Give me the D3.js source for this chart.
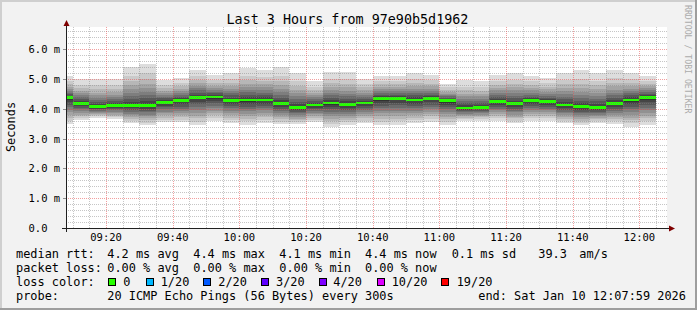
<!DOCTYPE html>
<html><head><meta charset="utf-8">
<script src="https://cdn.jsdelivr.net/npm/d3@7"></script>
<style>html,body{margin:0;padding:0;background:#f2f2f2;} svg{display:block;}</style>
</head><body><svg id="c" width="697" height="310"></svg>
<script>
// ---------------- data ----------------
const titleText = "Last 3 Hours from 97e90b5d1962";
const yAxisTitle = "Seconds";
const watermark = "RRDTOOL / TOBI OETIKER";
const startTime = "09:07:59";
const endTime = "12:07:59";
const stepSeconds = 300;
// end time of each 300 s sample
const sampleTimes = ["09:10","09:15","09:20","09:25","09:30","09:35","09:40","09:45","09:50","09:55",
  "10:00","10:05","10:10","10:15","10:20","10:25","10:30","10:35","10:40","10:45","10:50","10:55",
  "11:00","11:05","11:10","11:15","11:20","11:25","11:30","11:35","11:40","11:45","11:50","11:55",
  "12:00","12:05"];
// median RTT (ms)
const medianRtt = [4.37,4.19,4.07,4.11,4.11,4.11,4.22,4.27,4.39,4.40,4.29,4.30,4.30,4.17,4.05,4.13,4.20,4.15,
  4.20,4.34,4.35,4.30,4.34,4.27,4.03,4.05,4.24,4.18,4.27,4.24,4.13,4.07,4.05,4.18,4.30,4.37];
// 20 sorted ping RTTs (ms) per sample
const pings = [
 [3.50,3.61,3.71,3.80,3.88,3.97,4.06,4.14,4.23,4.31,4.40,4.44,4.49,4.55,4.61,4.67,4.74,4.82,4.92,5.09],
 [3.62,3.69,3.76,3.81,3.87,3.93,3.99,4.04,4.10,4.15,4.22,4.27,4.33,4.39,4.46,4.53,4.61,4.70,4.81,5.00],
 [3.71,3.76,3.80,3.83,3.87,3.90,3.94,3.98,4.01,4.05,4.11,4.16,4.23,4.30,4.38,4.46,4.55,4.66,4.79,5.00],
 [3.66,3.72,3.77,3.81,3.86,3.90,3.95,3.99,4.04,4.08,4.15,4.20,4.26,4.33,4.40,4.48,4.57,4.67,4.80,5.00],
 [3.53,3.61,3.67,3.73,3.79,3.84,3.90,3.96,4.02,4.07,4.16,4.24,4.33,4.44,4.54,4.66,4.79,4.94,5.12,5.42],
 [3.46,3.54,3.62,3.68,3.75,3.81,3.88,3.94,4.01,4.06,4.17,4.25,4.35,4.46,4.58,4.70,4.84,5.00,5.20,5.52],
 [3.55,3.64,3.71,3.78,3.85,3.91,3.98,4.05,4.11,4.17,4.25,4.29,4.35,4.41,4.46,4.53,4.61,4.69,4.79,4.96],
 [3.55,3.64,3.72,3.80,3.87,3.94,4.01,4.08,4.16,4.22,4.30,4.35,4.40,4.46,4.52,4.59,4.67,4.76,4.86,5.04],
 [3.45,3.57,3.68,3.77,3.86,3.96,4.05,4.15,4.24,4.32,4.43,4.48,4.55,4.62,4.70,4.78,4.87,4.98,5.11,5.32],
 [3.58,3.69,3.78,3.86,3.94,4.02,4.11,4.19,4.27,4.34,4.43,4.47,4.52,4.58,4.64,4.71,4.78,4.86,4.96,5.13],
 [3.53,3.63,3.71,3.79,3.86,3.94,4.02,4.09,4.17,4.24,4.33,4.38,4.45,4.52,4.59,4.68,4.77,4.87,5.00,5.21],
 [3.47,3.58,3.67,3.75,3.84,3.92,4.00,4.08,4.17,4.24,4.34,4.41,4.48,4.57,4.65,4.75,4.85,4.97,5.12,5.36],
 [3.54,3.64,3.72,3.80,3.87,3.95,4.03,4.10,4.18,4.25,4.34,4.40,4.47,4.55,4.63,4.72,4.82,4.92,5.06,5.29],
 [3.48,3.57,3.65,3.72,3.78,3.85,3.92,3.99,4.06,4.12,4.22,4.29,4.38,4.48,4.57,4.68,4.80,4.94,5.11,5.39],
 [3.48,3.55,3.62,3.67,3.73,3.79,3.85,3.90,3.96,4.01,4.10,4.16,4.24,4.34,4.43,4.53,4.64,4.77,4.93,5.19],
 [3.57,3.64,3.70,3.76,3.82,3.87,3.93,3.98,4.04,4.09,4.16,4.21,4.27,4.33,4.40,4.47,4.55,4.64,4.75,4.94],
 [3.40,3.50,3.59,3.67,3.75,3.83,3.91,3.99,4.07,4.14,4.24,4.31,4.38,4.46,4.55,4.64,4.75,4.86,5.01,5.25],
 [3.46,3.55,3.63,3.70,3.76,3.83,3.90,3.97,4.04,4.10,4.19,4.26,4.34,4.43,4.51,4.61,4.72,4.84,5.00,5.25],
 [3.52,3.61,3.68,3.75,3.82,3.89,3.96,4.02,4.09,4.15,4.23,4.28,4.34,4.41,4.47,4.54,4.63,4.72,4.83,5.02],
 [3.46,3.57,3.67,3.76,3.85,3.94,4.02,4.11,4.20,4.28,4.37,4.42,4.47,4.54,4.60,4.67,4.75,4.83,4.94,5.12],
 [3.46,3.58,3.67,3.76,3.85,3.94,4.03,4.12,4.21,4.29,4.38,4.43,4.48,4.54,4.60,4.67,4.75,4.84,4.94,5.12],
 [3.52,3.62,3.71,3.79,3.86,3.94,4.02,4.10,4.18,4.25,4.34,4.39,4.45,4.52,4.59,4.67,4.76,4.86,4.99,5.19],
 [3.57,3.67,3.76,3.83,3.91,3.99,4.06,4.14,4.22,4.29,4.37,4.42,4.48,4.54,4.61,4.68,4.76,4.85,4.96,5.15],
 [3.46,3.57,3.65,3.74,3.82,3.90,3.98,4.06,4.14,4.21,4.29,4.33,4.37,4.42,4.46,4.51,4.57,4.64,4.72,4.85],
 [3.61,3.67,3.71,3.75,3.80,3.84,3.88,3.92,3.96,4.00,4.07,4.12,4.19,4.26,4.34,4.42,4.51,4.62,4.75,4.96],
 [3.61,3.67,3.72,3.76,3.80,3.85,3.89,3.94,3.98,4.02,4.09,4.14,4.20,4.27,4.34,4.42,4.51,4.60,4.73,4.93],
 [3.60,3.68,3.75,3.82,3.88,3.95,4.01,4.07,4.14,4.20,4.28,4.33,4.40,4.47,4.54,4.62,4.71,4.81,4.94,5.15],
 [3.52,3.61,3.68,3.74,3.81,3.88,3.94,4.01,4.07,4.13,4.22,4.28,4.36,4.44,4.52,4.62,4.72,4.84,4.98,5.22],
 [3.61,3.70,3.77,3.83,3.90,3.97,4.03,4.10,4.16,4.22,4.30,4.36,4.41,4.48,4.55,4.63,4.71,4.81,4.93,5.12],
 [3.61,3.69,3.76,3.82,3.89,3.95,4.01,4.08,4.14,4.20,4.27,4.32,4.38,4.44,4.51,4.58,4.66,4.75,4.86,5.05],
 [3.52,3.60,3.67,3.73,3.79,3.85,3.91,3.97,4.03,4.09,4.17,4.24,4.32,4.40,4.49,4.59,4.70,4.82,4.97,5.22],
 [3.46,3.54,3.61,3.67,3.73,3.79,3.85,3.91,3.97,4.03,4.12,4.19,4.28,4.38,4.47,4.58,4.70,4.84,5.01,5.29],
 [3.52,3.59,3.65,3.70,3.75,3.81,3.86,3.91,3.97,4.01,4.10,4.17,4.25,4.34,4.44,4.54,4.66,4.79,4.95,5.22],
 [3.50,3.59,3.66,3.73,3.80,3.87,3.94,4.00,4.07,4.13,4.22,4.29,4.37,4.46,4.55,4.65,4.76,4.88,5.04,5.29],
 [3.40,3.52,3.62,3.71,3.80,3.89,3.98,4.07,4.16,4.24,4.34,4.39,4.45,4.52,4.59,4.67,4.76,4.86,4.99,5.19],
 [3.46,3.58,3.68,3.77,3.86,3.95,4.04,4.13,4.22,4.31,4.40,4.45,4.50,4.56,4.62,4.69,4.76,4.84,4.95,5.12]
];
// packet loss per sample (pings lost of 20)
const lossCount = new Array(36).fill(0);
const yMax = 6.75;
const yTickValues = [0,1,2,3,4,5,6];
const yTickLabels = ["0.0","1.0 m","2.0 m","3.0 m","4.0 m","5.0 m","6.0 m"];
const xTickLabels = ["09:20","09:40","10:00","10:20","10:40","11:00","11:20","11:40","12:00"];
const lossKeys = [0,1,2,3,4,10,19];
const lossLabels = ["0","1/20","2/20","3/20","4/20","10/20","19/20"];
const lossColors = ["#26ff00","#00b8ff","#0059ff","#5e00ff","#7e00ff","#dd00ff","#ff0000"];
const legendRtt = ["median rtt:","4.2 ms avg","4.4 ms max","4.1 ms min","4.4 ms now","0.1 ms sd","39.3","am/s"];
const legendLoss = ["packet loss:","0.00 % avg","0.00 % max","0.00 % min","0.00 % now"];
const legendLossColorTitle = "loss color:";
const legendProbe = ["probe:","20 ICMP Echo Pings (56 Bytes) every 300s","end: Sat Jan 10 12:07:59 2026"];

// ---------------- drawing ----------------
const W = 697, H = 310;
const X0 = 66, X1 = 666, Y0 = 228, Y1 = 27;
const parseT = s => new Date(`2026-01-10T${s.length===5? s+":00" : s}Z`);
const FONT = "'DejaVu Sans Mono', monospace";

const svg = d3.select("#c");
const x = d3.scaleUtc().domain([parseT(startTime), parseT(endTime)]).range([X0, X1]);
const y = d3.scaleLinear().domain([0, yMax]).range([Y0, Y1]);

svg.append("rect").attr("width", W).attr("height", H).attr("fill", "#f2f2f2");
svg.append("path").attr("d", `M0,0H${W}V2H2V${H}H0Z`).attr("fill", "#cfcfcf");
svg.append("path").attr("d", `M${W},${H}H0V${H-2}H${W-2}V0H${W}Z`).attr("fill", "#9e9e9e");

// canvas
svg.append("rect").attr("x", X0).attr("y", Y1).attr("width", X1 - X0 + 1).attr("height", Y0 - Y1).attr("fill", "#ffffff");

// smoke
const gSmoke = svg.append("g");
sampleTimes.forEach((s, k) => {
  const tEnd = parseT(s), tStart = new Date(+tEnd - stepSeconds * 1000);
  const xa = Math.round(Math.max(X0, x(tStart))), xb = Math.round(x(tEnd));
  const p = pings[k];
  for (let i = 1; i <= 10; i++) {
    const g = Math.floor(190 / 10 * (10 - i)) + 50;
    const yt = Math.round(y(p[20 - i])), yb = Math.round(y(p[i - 1]));
    gSmoke.append("rect").attr("x", xa).attr("width", xb - xa)
      .attr("y", yt).attr("height", Math.max(0, yb - yt)).attr("fill", d3.rgb(g, g, g));
  }
  const yc = y(medianRtt[k]);
  const mt = Math.round(yc - 1.4), mb = Math.round(yc + 1.4);
  const ci = lossKeys.reduce((a, key, j) => lossCount[k] >= key ? j : a, 0);
  gSmoke.append("rect").attr("x", xa).attr("width", xb - xa).attr("y", mt).attr("height", mb - mt)
    .attr("fill", lossColors[ci]);
});

// grid
const gGrid = svg.append("g").attr("shape-rendering", "crispEdges");
const majorTimes = xTickLabels.map(parseT);
const minorTimes = x.ticks(d3.utcMinute.every(5)).filter(t => t.getUTCMinutes() % 20 !== 0);
minorTimes.forEach(t => {
  const xx = Math.round(x(t)) + 0.5;
  gGrid.append("line").attr("x1", xx).attr("x2", xx).attr("y1", Y1).attr("y2", Y0)
    .attr("stroke", "rgba(128,128,128,0.45)").attr("stroke-dasharray", "1,1");
});
const minorY = d3.range(1, Math.floor(yMax / 0.2) + 1).map(i => i * 0.2).filter(v => Math.abs(v - Math.round(v)) > 0.01);
minorY.forEach(v => {
  const yy = Math.round(y(v)) + 0.5;
  gGrid.append("line").attr("x1", X0).attr("x2", X1 + 2).attr("y1", yy).attr("y2", yy)
    .attr("stroke", "rgba(128,128,128,0.45)").attr("stroke-dasharray", "1,1");
});
majorTimes.forEach(t => {
  const xx = Math.round(x(t)) + 0.5;
  gGrid.append("line").attr("x1", xx).attr("x2", xx).attr("y1", Y1).attr("y2", Y0)
    .attr("stroke", "rgba(232,80,80,0.55)").attr("stroke-dasharray", "1,1");
});
yTickValues.slice(1).forEach(v => {
  const yy = Math.round(y(v)) + 0.5;
  gGrid.append("line").attr("x1", X0).attr("x2", X1 + 2).attr("y1", yy).attr("y2", yy)
    .attr("stroke", "rgba(232,80,80,0.55)").attr("stroke-dasharray", "1,1");
});

// axes
const axisCol = "#202020";
const gAx = svg.append("g").attr("shape-rendering", "crispEdges");
gAx.append("line").attr("x1", X0 - 4).attr("x2", X1 + 3).attr("y1", Y0 + 0.5).attr("y2", Y0 + 0.5).attr("stroke", axisCol);
gAx.append("line").attr("x1", X0 + 0.5).attr("x2", X0 + 0.5).attr("y1", Y0 + 4).attr("y2", Y1 - 2).attr("stroke", axisCol);
yTickValues.slice(1).forEach(v => {
  const yy = Math.round(y(v)) + 0.5;
  gAx.append("line").attr("x1", X0 - 3).attr("x2", X0).attr("y1", yy).attr("y2", yy).attr("stroke", "#909090");
});
// arrows
svg.append("path").attr("d", `M${X0+0.5},${Y1-7} L${X0-2.5},${Y1-1} L${X0+3.5},${Y1-1} Z`).attr("fill", "#7f0000");
svg.append("path").attr("d", `M${X1+9},${Y0+0.5} L${X1+3},${Y0-2.5} L${X1+3},${Y0+3.5} Z`).attr("fill", "#7f0000");

// axis labels
const gTxt = svg.append("g").attr("font-family", FONT).attr("fill", "#000");
yTickValues.forEach((v, i) => {
  gTxt.append("text").attr("x", 28.5).attr("y", Math.round(y(v)) + 4)
    .attr("font-size", "10.5px").text(yTickLabels[i]);
});
majorTimes.forEach((t, i) => {
  gTxt.append("text").attr("x", x(t)).attr("y", 241).attr("text-anchor", "middle")
    .attr("font-size", "10.5px").text(xTickLabels[i]);
});
gTxt.append("text").attr("x", 347.5).attr("y", 24).attr("text-anchor", "middle")
  .attr("font-size", "13.4px").text(titleText);
gTxt.append("text").attr("transform", "translate(15,127) rotate(-90)").attr("text-anchor", "middle")
  .attr("font-size", "11.9px").text(yAxisTitle);
svg.append("text").attr("transform", "translate(685,5) rotate(90)").attr("font-family", FONT)
  .attr("font-size", "8.2px").attr("fill", "#ababab").text(watermark);

// legend
const LF = "11.9px";
const leg = (str, xx, yy) => gTxt.append("text").attr("x", xx).attr("y", yy).attr("font-size", LF)
  .attr("xml:space", "preserve").style("white-space", "pre").text(str);
const rttX = [16, 107.3, 193.3, 279.3, 365, 451.7, 538.3, 579.3];
legendRtt.forEach((s, i) => leg(s, rttX[i], 258));
const lossX = [16, 107.3, 193.3, 279.3, 365];
legendLoss.forEach((s, i) => leg(s, lossX[i], 272));
leg(legendLossColorTitle, 16, 286);
const boxX = [108.5, 146, 203.5, 261, 319, 377.5, 441.5];
const labX = [123.3, 160.7, 218.3, 276, 333.3, 391.7, 456.7];
lossLabels.forEach((s, i) => {
  svg.append("rect").attr("x", boxX[i]).attr("y", 278.5).attr("width", 7).attr("height", 7)
    .attr("fill", lossColors[i]).attr("stroke", "#000").attr("stroke-width", 1).attr("shape-rendering", "crispEdges");
  leg(s, labX[i], 286);
});
const probeX = [16, 107.3, 478.3];
legendProbe.forEach((s, i) => leg(s, probeX[i], 300));
</script></body></html>
